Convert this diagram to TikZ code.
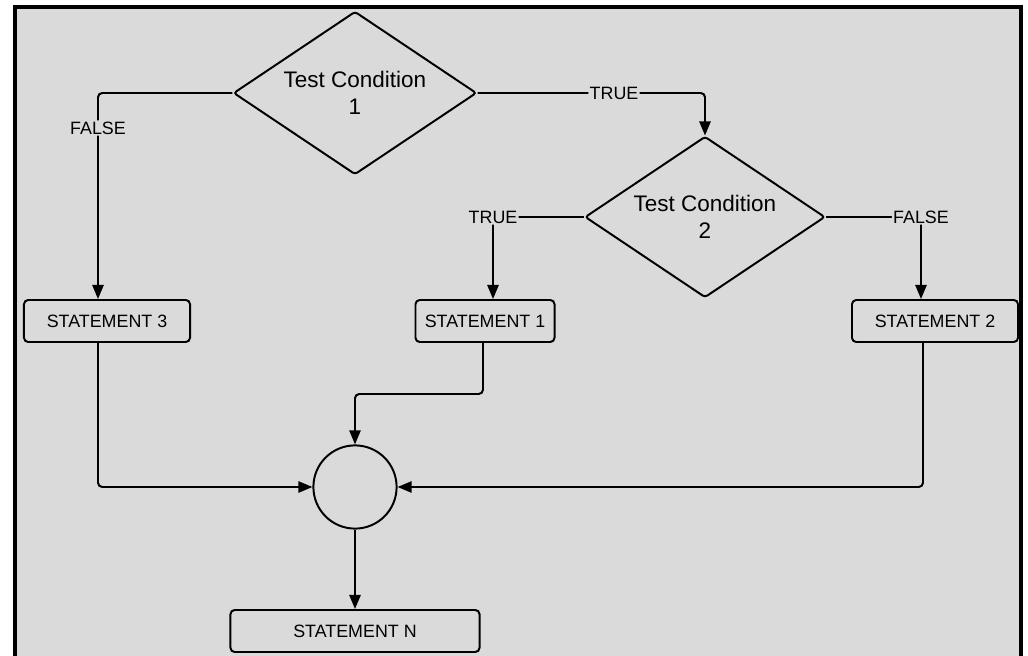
\documentclass[tikz,border=0pt]{standalone}
\usepackage{fontspec}
\setmainfont{Liberation Sans}
\usetikzlibrary{shapes.geometric,arrows.meta,calc}
\definecolor{paper}{RGB}{218,218,218}

\begin{document}
\begin{tikzpicture}[x=0.025cm, y=-0.025cm, line width=1.4pt,
  cond/.style={diamond, draw, aspect=1.5, inner sep=0pt, minimum width=6.075cm, minimum height=4.075cm, rounded corners=2pt, align=center, font=\fontsize{16}{19}\selectfont},
  stmt/.style={draw, rounded corners=3pt, minimum height=1.05cm, font=\fontsize{12.7}{15}\selectfont},
  lbl/.style={fill=paper, inner sep=1pt, font=\fontsize{12.7}{15}\selectfont},
  arr/.style={-{Triangle[length=10pt,width=8pt]}, rounded corners=3pt}]
\useasboundingbox (0,0) rectangle (1028,656);
\clip (0,0) rectangle (1028,656);
\draw[fill=paper, line width=2.2pt] (15,7) rectangle (1021,680);

\node[cond] (c1) at (355,93) {Test Condition\\1};
\node[cond, minimum width=6cm, minimum height=4.025cm] (c2) at (705,217) {Test Condition\\2};
\node[stmt, minimum width=4.15cm] (s3) at (107,321) {STATEMENT 3};
\node[stmt, minimum width=3.475cm] (s1) at (485,321) {STATEMENT 1};
\node[stmt, minimum width=4.15cm] (s2) at (935,321) {STATEMENT 2};
\node[circle, draw, minimum size=2.08cm] (j) at (355,487) {};
\node[stmt, minimum width=6.225cm] (sn) at (355,631) {STATEMENT N};

\draw[arr] (c1.east) -- node[lbl, pos=0.6] (t1) {TRUE} (c1.east -| c2.north) -- (c2.north);
\draw[arr] (c1.west) -- ($(c1.west -| s3.north)+(-9,0)$) -- node[lbl, pos=0.17] (f1) {FALSE} ($(s3.north)+(-9,0)$);
\draw[arr] (c2.west) -| node[lbl] (t2) {TRUE} ($(s1.north)+(8,0)$);
\draw[arr] (c2.east) -| node[lbl] (f2) {FALSE} ($(s2.north)+(-14,0)$);

\draw[arr] ($(s3.south)+(-9,0)$) |- (j.west);
\draw[arr] ($(s1.south)+(-2,0)$) -- ++(0,51) -| (j.north);
\draw[arr] ($(s2.south)+(-12,0)$) |- (j.east);
\draw[arr] (j) -- (sn);
\end{tikzpicture}
\end{document}
